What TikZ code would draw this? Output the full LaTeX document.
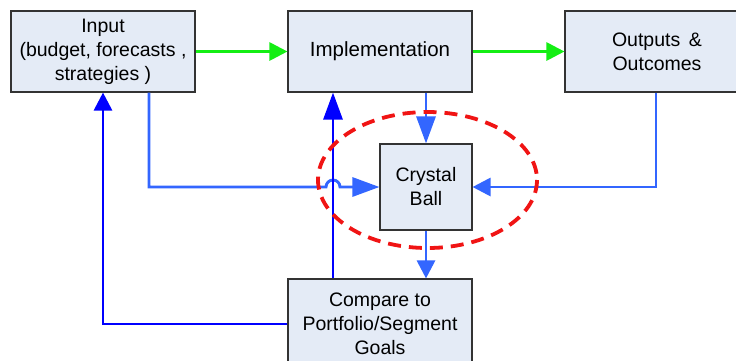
\documentclass[tikz,border=0pt]{standalone}
\usepackage{fontspec}
\setmainfont{Liberation Sans}
\usepackage{xcolor}
\usepackage{tikz}
\usetikzlibrary{positioning}
\usetikzlibrary{arrows.meta}
\definecolor{boxfill}{RGB}{228,235,246}
\definecolor{flowgreen}{RGB}{20,238,20}
\definecolor{flowblue}{RGB}{51,102,255}
\definecolor{loopblue}{RGB}{0,0,255}
\definecolor{ballred}{RGB}{240,20,20}

\begin{document}
\begin{tikzpicture}[x=1pt,y=-1pt,
		box/.style={draw=black!80,fill=boxfill,line width=1.1pt,minimum width=184pt,
			minimum height=81pt,align=center,inner sep=2pt,font=\fontsize{19.5}{24}\selectfont},
		longtip/.style={-{Triangle[length=27pt,width=19pt]}},
		shorttip/.style={-{Triangle[length=18pt,width=18pt]}},
		green flow/.style={draw=flowgreen,line width=2.9pt,shorttip},
		blue flow/.style={draw=flowblue,line width=2.9pt},
		back flow/.style={draw=loopblue,line width=2.9pt}]
	\useasboundingbox (0,0) rectangle (736,360);
	\clip (0,0) rectangle (736,360);
	\node[box] (input) at (103,51.5) {Input\\(budget, forecasts ,\\strategies )};
	\node[box,font=\fontsize{20.5}{24}\selectfont] (impl) at (380,51.5) {\raisebox{-3pt}{Implementation}};
	\node[box] (outputs) at (657,51.5) {Outputs \,\&\\Outcomes};
	\node[box,minimum width=92pt,minimum height=86pt] (ball) at (426,187) {Crystal\\Ball};
	\node[box,minimum height=90pt] (goals) at (380,324) {Compare to\\Portfolio/Segment\\Goals};
	\coordinate (inturn) at (input.south -| 149,0);
	\coordinate (outturn) at (outputs.south -| 656,0);
	\coordinate (backup) at (goals.north -| 333,0);
	\draw[green flow] (input) -- (impl);
	\draw[green flow] (impl) -- (outputs);
	\draw[blue flow,longtip] (impl.south -| ball) -- (ball.north);
	\draw[blue flow,longtip] (inturn) |- (326,187) arc (180:360:7) -- (ball.west);
	\draw[blue flow,shorttip] (outturn) |- (ball.east);
	\draw[blue flow,shorttip] (ball.south) -- (goals.north -| ball);
	\draw[back flow,longtip] (backup) -- (backup |- impl.south);
	\draw[back flow,shorttip] (goals.west) -| (input.south);
	\draw[ballred,line width=3.8pt,dash pattern=on 13pt off 8pt] (427.5,180) ellipse (109.5 and 68);
\end{tikzpicture}
\end{document}
